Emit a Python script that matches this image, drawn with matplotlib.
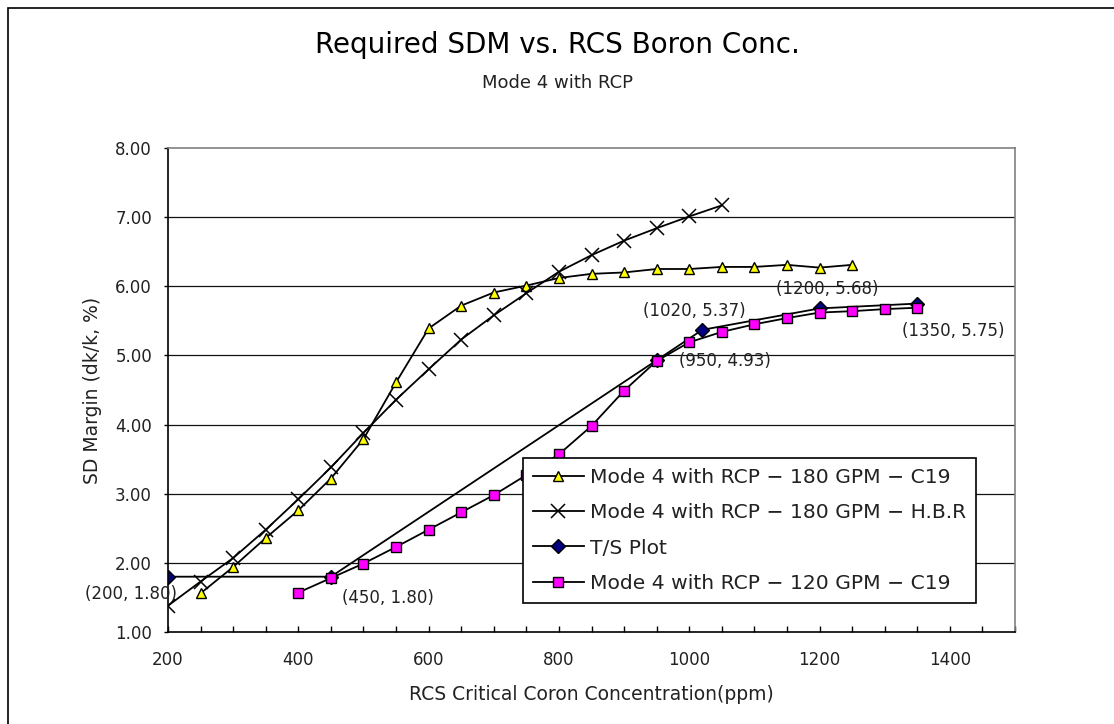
import matplotlib
matplotlib.use('Agg')
import matplotlib.pyplot as plt
from matplotlib.ticker import MultipleLocator, FormatStrFormatter

plt.rcParams['font.family'] = ['DejaVu Sans']

# Mode 4 with RCP - 180 GPM - C19
c19_180_x = [250, 300, 350, 400, 450, 500, 550, 600, 650, 700, 750,
             800, 850, 900, 950, 1000, 1050, 1100, 1150, 1200, 1250]
c19_180_y = [1.56, 1.94, 2.36, 2.76, 3.22, 3.79, 4.61, 5.39, 5.72, 5.91, 6.01,
             6.12, 6.18, 6.20, 6.25, 6.25, 6.28, 6.28, 6.31, 6.27, 6.31]

# Mode 4 with RCP - 180 GPM - H.B.R
hbr_x = [200, 250, 300, 350, 400, 450, 500, 550, 600, 650, 700,
         750, 800, 850, 900, 950, 1000, 1050]
hbr_y = [1.38, 1.73, 2.07, 2.48, 2.92, 3.38, 3.88, 4.36, 4.80, 5.23, 5.58,
         5.90, 6.21, 6.45, 6.66, 6.84, 7.01, 7.17]

# T/S Plot
ts_x = [200, 450, 950, 1020, 1200, 1350]
ts_y = [1.80, 1.80, 4.93, 5.37, 5.68, 5.75]

# Mode 4 with RCP - 120 GPM - C19
c19_120_x = [400, 450, 500, 550, 600, 650, 700, 750, 800, 850, 900,
             950, 1000, 1050, 1100, 1150, 1200, 1250, 1300, 1350]
c19_120_y = [1.57, 1.78, 1.99, 2.23, 2.48, 2.73, 2.98, 3.27, 3.57, 3.98, 4.49,
             4.92, 5.19, 5.34, 5.45, 5.54, 5.62, 5.64, 5.67, 5.69]

fig = plt.figure(figsize=(11.14, 7.24), dpi=100)
ax = fig.add_axes([168/1114, 1-632/724, 847/1114, 484/724])

# outer chart frame
fig.patches.append(plt.Rectangle((8/1114, -0.02), 1.05, 1-8/724+0.02, transform=fig.transFigure,
                                 fill=False, edgecolor='black', lw=1.2))

lw = 1.3
ax.plot(c19_180_x, c19_180_y, color='black', lw=lw, marker='^', ms=7,
        mfc='#FFFF00', mec='black', mew=1, label='Mode 4 with RCP \u2212 180 GPM \u2212 C19')
ax.plot(hbr_x, hbr_y, color='black', lw=lw, marker='x', ms=10, mew=1.1,
        mec='black', label='Mode 4 with RCP \u2212 180 GPM \u2212 H.B.R')
ax.plot(ts_x, ts_y, color='black', lw=lw, marker='D', ms=7,
        mfc='#000080', mec='black', mew=1, label='T/S Plot')
ax.plot(c19_120_x, c19_120_y, color='black', lw=lw, marker='s', ms=7,
        mfc='#FF00FF', mec='black', mew=1, label='Mode 4 with RCP \u2212 120 GPM \u2212 C19')

offsets = [(-37, -17), (57, -21), (68, -1), (-8, 19), (8, 19), (36, -27)]
for (px, py), (dx, dy) in zip(zip(ts_x, ts_y), offsets):
    ax.annotate('(%d, %.2f)' % (px, py), (px, py), xytext=(dx, dy),
                textcoords='offset pixels', ha='center', va='center',
                fontsize=12, color='#222222')

ax.set_xlim(200, 1500)
ax.set_ylim(1.0, 8.0)
ax.xaxis.set_major_locator(MultipleLocator(200))
ax.xaxis.set_minor_locator(MultipleLocator(50))
ax.yaxis.set_major_locator(MultipleLocator(1))
ax.yaxis.set_major_formatter(FormatStrFormatter('%.2f'))
ax.set_xticks([200, 400, 600, 800, 1000, 1200, 1400])
ax.tick_params(axis='x', which='both', direction='in', length=4, width=1,
               pad=14, labelsize=12, colors='black', labelcolor='#222222')
ax.tick_params(axis='y', direction='out', length=3, width=1, pad=8.5,
               labelsize=12, labelcolor='#222222')

for y in range(2, 8):
    ax.axhline(y, color='#111111', lw=0.9, zorder=0.5)

ax.spines['left'].set_color('black')
ax.spines['bottom'].set_color('black')
ax.spines['top'].set_color('#808080')
ax.spines['right'].set_color('#808080')
for s in ax.spines.values():
    s.set_linewidth(1.2)

ax.set_xlabel('RCS Critical Coron Concentration(ppm)', fontsize=13.5, color='#222222')
ax.xaxis.set_label_coords(0.5, (632-695)/484)
ax.xaxis.label.set_va('center')
ax.set_ylabel('SD Margin (dk/k, %)', fontsize=13.5, color='#222222')
ax.yaxis.set_label_coords((93-168)/847, 0.5)
ax.yaxis.label.set_va('center')

fig.text(557/1114, 1-45/724, 'Required SDM vs. RCS Boron Conc.', ha='center', va='center',
         fontsize=20, color='black')
fig.text(557/1114, 1-83/724, 'Mode 4 with RCP', ha='center', va='center',
         fontsize=13, color='#222222')

leg = ax.legend(loc='upper left', bbox_to_anchor=((523-168)/847, (632-458)/484),
                borderaxespad=0, fontsize=14.6, frameon=True, fancybox=False,
                framealpha=1, edgecolor='black', handlelength=2.5, handletextpad=0.3,
                labelspacing=0.8, borderpad=0.5)
leg.get_frame().set_linewidth(1.2)
for t in leg.get_texts():
    t.set_color('#222222')

fig.savefig('out.png', dpi=100)
